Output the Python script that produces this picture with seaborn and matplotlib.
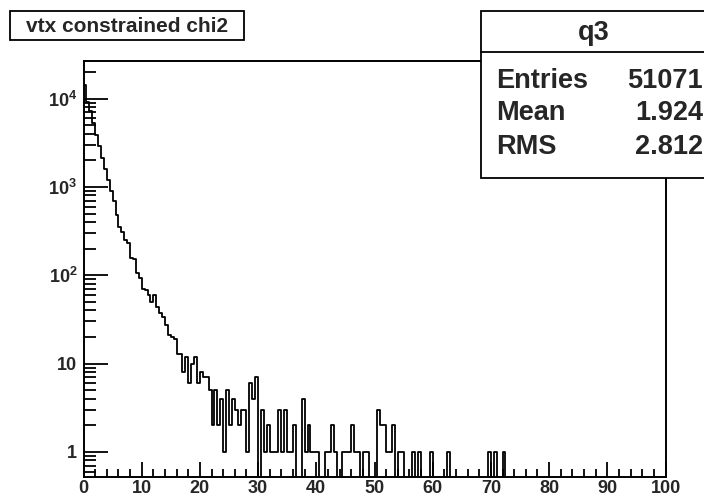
import numpy as np
import pandas as pd
import seaborn as sns
import matplotlib
matplotlib.use("Agg")
import matplotlib.pyplot as plt
from matplotlib.patches import Rectangle
from matplotlib.lines import Line2D
from matplotlib.ticker import MultipleLocator, LogLocator, FixedLocator, FixedFormatter, NullFormatter

# histogram q3: vertex-constrained chi2, 200 bins on [0, 100]
x_min, x_max, n_bins = 0.0, 100.0, 200
counts = [
    14300, 9200, 7200, 5300, 3900, 2900, 2150, 1600, 1200, 900,     # 0 - 5
    684, 483, 356, 310, 252, 230, 156, 151, 105, 92,               # 5 - 10
    69, 68, 60, 50, 60, 44, 37, 34, 27, 21,                        # 10 - 15
    20, 19, 13, 13, 8, 12, 6, 10, 12, 6,                           # 15 - 20
    8, 7, 7, 5, 2, 5, 2, 4, 1, 5,                                  # 20 - 25
    2, 4, 3, 2, 3, 3, 1, 6, 4, 7,                                  # 25 - 30
    0, 3, 1, 2, 1, 1, 1, 3, 1, 3,                                  # 30 - 35
    1, 1, 2, 0, 0, 4, 1, 2, 1, 1,                                  # 35 - 40
    1, 0, 0, 1, 1, 2, 1, 0, 0, 1,                                  # 40 - 45
    1, 1, 2, 1, 1, 0, 1, 1, 0, 0,                                  # 45 - 50
    0, 3, 2, 2, 1, 1, 2, 0, 1, 1,                                  # 50 - 55
    0, 0, 0, 1, 0, 1, 0, 0, 0, 1,                                  # 55 - 60
    0, 0, 0, 0, 0, 1, 0, 0, 0, 0,                                  # 60 - 65
    0, 0, 0, 0, 0, 0, 0, 0, 0, 1,                                  # 65 - 70
    0, 1, 0, 0, 1, 0, 0, 0, 0, 0,                                  # 70 - 75
] + [0] * 50                                                       # 75 - 100

hist_title = "vtx constrained chi2"
stats_name = "q3"
stats_rows = [("Entries", "51071"), ("Mean", "1.924"), ("RMS", "2.812")]
x_ticks = [0, 10, 20, 30, 40, 50, 60, 70, 80, 90, 100]
y_ticks = [1, 10, 100, 1000, 10000]
y_tick_labels = ["1", "10", "10$^{2}$", "10$^{3}$", "10$^{4}$"]

bin_width = (x_max - x_min) / n_bins
centers = x_min + bin_width * (np.arange(n_bins) + 0.5)
df = pd.DataFrame({"chi2": centers, "n": np.asarray(counts, dtype=float)})

sns.set_style("white")
plt.rcParams["font.family"] = ["Liberation Sans", "DejaVu Sans"]
plt.rcParams["font.weight"] = "bold"
plt.rcParams["mathtext.fontset"] = "custom"
plt.rcParams["mathtext.rm"] = "Liberation Sans:bold"
plt.rcParams["mathtext.bf"] = "Liberation Sans:bold"

W, H = 704, 497
fig = plt.figure(figsize=(W / 100, H / 100), dpi=100)
fig.patch.set_facecolor("white")

def fx(px):
    return px / W

def fy(py):
    return 1 - py / H

ax_l, ax_r, ax_t, ax_b = 83.5, 665.5, 60.5, 477
ax = fig.add_axes([fx(ax_l), fy(ax_b), fx(ax_r - ax_l), (ax_b - ax_t) / H])

sns.histplot(data=df, x="chi2", weights="n", binwidth=bin_width,
             binrange=(x_min, x_max), element="step",
             fill=False, color="black", linewidth=1.3, ax=ax)
ax.set_yscale("log")
ax.set_xlim(x_min, x_max)
ax.set_ylim(0.52, 27000)
ax.set_xlabel("")
ax.set_ylabel("")

for side in ["left", "bottom", "top", "right"]:
    ax.spines[side].set_visible(True)
    ax.spines[side].set_color("black")
    ax.spines[side].set_linewidth(1.4)

ax.xaxis.set_major_locator(FixedLocator(x_ticks))
ax.xaxis.set_minor_locator(MultipleLocator(2))
ax.yaxis.set_major_locator(FixedLocator(y_ticks))
ax.yaxis.set_major_formatter(FixedFormatter(y_tick_labels))
ax.yaxis.set_minor_locator(LogLocator(base=10, subs=np.arange(2, 10)))
ax.yaxis.set_minor_formatter(NullFormatter())

ax.tick_params(axis="both", which="both", direction="in", bottom=True, left=True,
               top=False, right=False, color="black", width=1.3)
ax.tick_params(axis="x", which="major", length=11, pad=2.5, labelsize=13)
ax.tick_params(axis="x", which="minor", length=6)
ax.tick_params(axis="y", which="major", length=17, pad=4.5, labelsize=13)
ax.tick_params(axis="y", which="minor", length=8.5)
for lab in ax.get_xticklabels() + ax.get_yticklabels():
    lab.set_fontweight("bold")

# title box
fig.add_artist(Rectangle((fx(10), fy(40)), fx(244 - 10), (40 - 11) / H,
                         facecolor="white", edgecolor="black", linewidth=1.3))
fig.text(fx(127), fy(32.5), hist_title, ha="center", va="baseline",
         fontsize=15, fontweight="bold")

# statistics box
box_l, box_t, box_b, head_b = 481, 11, 178, 52
fig.add_artist(Rectangle((fx(box_l), fy(box_b)), fx(740 - box_l), (box_b - box_t) / H,
                         facecolor="white", edgecolor="black", linewidth=1.3, zorder=5))
fig.add_artist(Line2D([fx(box_l), 1.0], [fy(head_b), fy(head_b)], color="black",
                      linewidth=1.3, zorder=6))
fig.text(fx(594), fy(40), stats_name, ha="center", va="baseline",
         fontsize=19.5, fontweight="bold", zorder=7)
row_base = [88, 120.5, 153.5]
for (name, val), yy in zip(stats_rows, row_base):
    fig.text(fx(496), fy(yy), name, ha="left", va="baseline",
             fontsize=19.5, fontweight="bold", zorder=7)
    fig.text(fx(703), fy(yy), val, ha="right", va="baseline",
             fontsize=19.5, fontweight="bold", zorder=7)

fig.savefig("out.png", dpi=100, facecolor="white")
